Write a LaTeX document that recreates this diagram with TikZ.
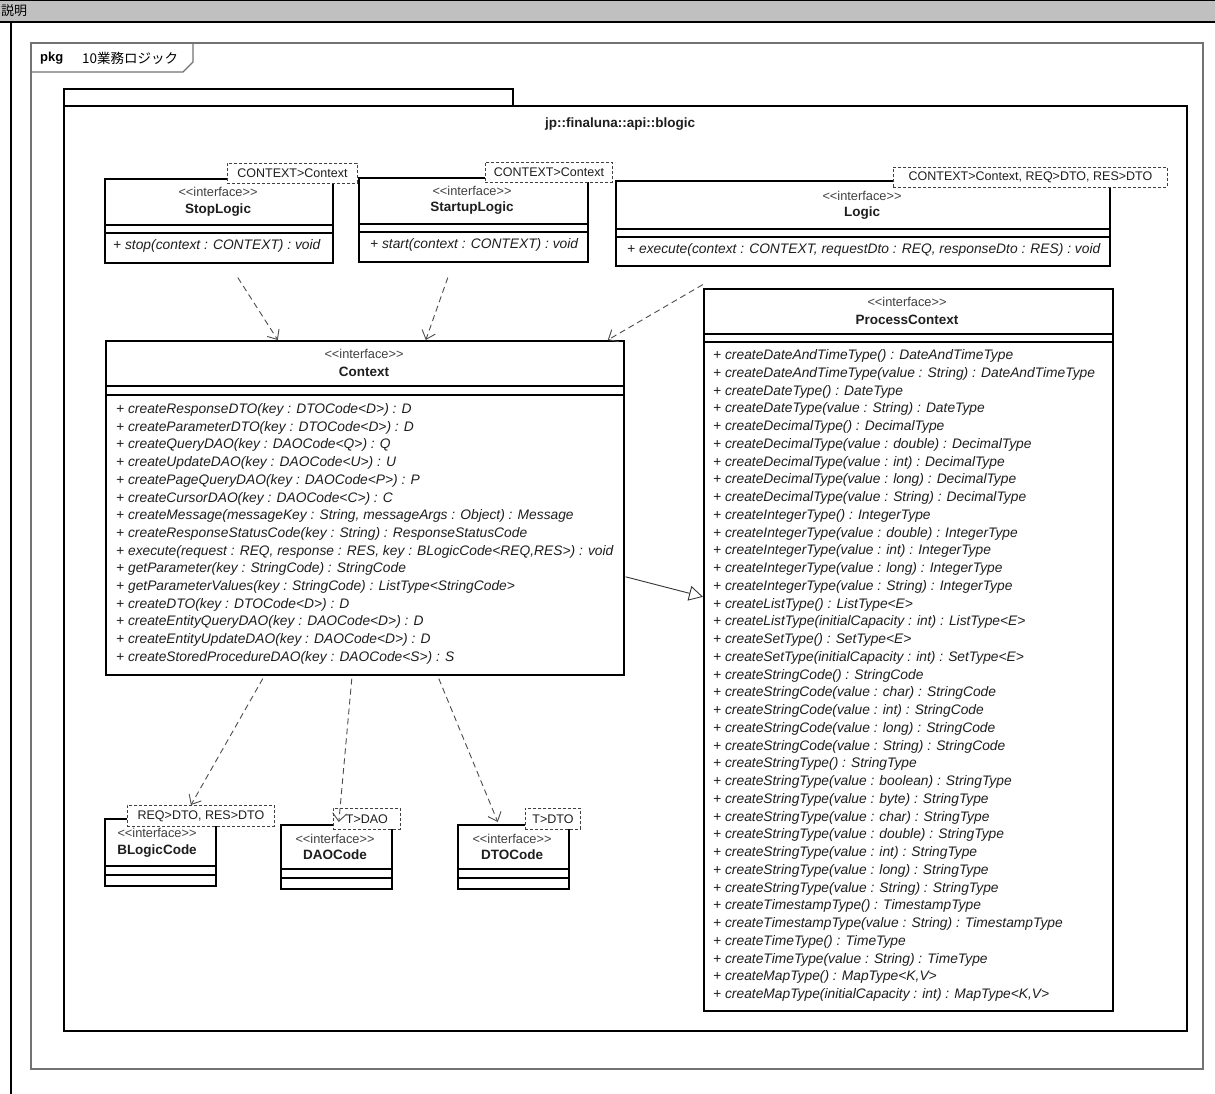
\documentclass[tikz,border=0pt]{standalone}
\usepackage{fontspec}
\setmainfont{Liberation Sans}[Ligatures=TeXOff]
\newfontfamily\jpfont{Noto Sans CJK JP}
\usetikzlibrary{arrows.meta,calc}
\definecolor{hdrgray}{RGB}{192,192,192}
\definecolor{txt}{RGB}{30,30,30}
\begin{document}
\begin{tikzpicture}[x=1pt,y=-1pt,
  cbox/.style={draw=black, line width=1.6pt, fill=white, anchor=north west, inner sep=0pt},
  sepline/.style={draw=black, line width=1.2pt},
  stereo/.style={font=\fontsize{12.8}{14}\selectfont, text=black!75, inner sep=0pt},
  cname/.style={font=\fontsize{13.5}{16}\selectfont\bfseries, text=txt, inner sep=0pt},
  opline/.style={font=\fontsize{13.8}{16}\selectfont\itshape, text=txt, anchor=west, inner sep=0pt, text height=10pt, text depth=3pt},
  tmpl/.style={draw=black!75, dash pattern=on 3pt off 2pt, line width=0.9pt, fill=white, font=\fontsize{12.5}{15}\selectfont, text=txt, inner sep=0pt, anchor=north west},
  dep/.style={draw=black!70, line width=0.9pt, dash pattern=on 6pt off 4pt, -{Straight Barb[length=8pt,width=14pt,line width=0.9pt]}},
  gen/.style={draw=black!80, line width=0.9pt, -{Triangle[open,length=14pt,width=15pt,fill=white,line width=0.9pt]}}
]
\useasboundingbox (0,0) rectangle (1215,1094);
\fill[white] (0,0) rectangle (1215,1094);
% header
\fill[hdrgray] (0,0) rectangle (1215,22);
\draw[line width=1.5pt] (0,0.75) -- (1215,0.75);
\draw[line width=2.5pt] (0,22) -- (1215,22);
\draw[line width=2pt] (11,22) -- (11,1094);
\node[anchor=west, inner sep=0pt, font=\jpfont\fontsize{13}{14}\selectfont] (hdr) at (1,11) {説明};
% pkg frame
\draw[draw=black!55, line width=1.2pt] (31,43) rectangle (1203,1069);
\draw[draw=black!55, line width=1.2pt] (31,72) -- (183,72) -- (193,62) -- (193,43);
\node[anchor=west, inner sep=0pt, font=\fontsize{13}{14}\selectfont\bfseries] (pkgkw) at (40,58) {pkg};
\node[anchor=west, inner sep=0pt, font=\jpfont\fontsize{13.5}{14}\selectfont] (pkgname) at (82,58) {10業務ロジック};
% package
\draw[line width=2pt] (64,89) rectangle (513,106);
\draw[line width=2pt] (64,106) rectangle (1187,1031);
\node[inner sep=0pt, font=\fontsize{13.5}{16}\selectfont\bfseries, text=txt] (pkglbl) at (620,124) {jp::finaluna::api::blogic};

% ---------- StopLogic
\node[cbox, minimum width=228pt, minimum height=84pt] (stop) at (104,178) {};
\node[stereo] (stopS) at (218,192) {<<interface>>};
\node[cname] (stopN) at (218,210) {StopLogic};
\draw[sepline] (stop.west |- 0,225) -- (stop.east |- 0,225);
\draw[sepline] (stop.west |- 0,233) -- (stop.east |- 0,233);
\node[opline] (stopO) at (113,246) {+ stop(context : CONTEXT) : void};
\node[tmpl, minimum width=130pt, minimum height=20pt] (stopT) at (227,163) {CONTEXT>Context};

% ---------- StartupLogic
\node[cbox, minimum width=229pt, minimum height=84pt] (start) at (358,177) {};
\node[stereo] (startS) at (472,191) {<<interface>>};
\node[cname] (startN) at (472,208) {StartupLogic};
\draw[sepline] (start.west |- 0,224) -- (start.east |- 0,224);
\draw[sepline] (start.west |- 0,232) -- (start.east |- 0,232);
\node[opline] (startO) at (370,245) {+ start(context : CONTEXT) : void};
\node[tmpl, minimum width=127pt, minimum height=20pt] (startT) at (485,162) {CONTEXT>Context};

% ---------- Logic
\node[cbox, minimum width=494pt, minimum height=85pt] (logic) at (615,180) {};
\node[stereo] (logicS) at (862,196) {<<interface>>};
\node[cname] (logicN) at (862,213) {Logic};
\draw[sepline] (logic.west |- 0,229) -- (logic.east |- 0,229);
\draw[sepline] (logic.west |- 0,237) -- (logic.east |- 0,237);
\node[opline] (logicO) at (627,250) {+ execute(context : CONTEXT, requestDto : REQ, responseDto : RES) : void};
\node[tmpl, minimum width=274pt, minimum height=20pt] (logicT) at (893,167) {CONTEXT>Context, REQ>DTO, RES>DTO};

% ---------- Context
\node[cbox, minimum width=518pt, minimum height=334pt] (ctx) at (105,340) {};
\node[stereo] (ctxS) at (364,354) {<<interface>>};
\node[cname] (ctxN) at (364,372) {Context};
\draw[sepline] (ctx.west |- 0,386) -- (ctx.east |- 0,386);
\draw[sepline] (ctx.west |- 0,395) -- (ctx.east |- 0,395);
\foreach \t [count=\i] in {
  {+ createResponseDTO(key : DTOCode<D>) : D},
  {+ createParameterDTO(key : DTOCode<D>) : D},
  {+ createQueryDAO(key : DAOCode<Q>) : Q},
  {+ createUpdateDAO(key : DAOCode<U>) : U},
  {+ createPageQueryDAO(key : DAOCode<P>) : P},
  {+ createCursorDAO(key : DAOCode<C>) : C},
  {+ createMessage(messageKey : String, messageArgs : Object) : Message},
  {+ createResponseStatusCode(key : String) : ResponseStatusCode},
  {+ execute(request : REQ, response : RES, key : BLogicCode<REQ,RES>) : void},
  {+ getParameter(key : StringCode) : StringCode},
  {+ getParameterValues(key : StringCode) : ListType<StringCode>},
  {+ createDTO(key : DTOCode<D>) : D},
  {+ createEntityQueryDAO(key : DAOCode<D>) : D},
  {+ createEntityUpdateDAO(key : DAOCode<D>) : D},
  {+ createStoredProcedureDAO(key : DAOCode<S>) : S}}
  \node[opline] (ctxop\i) at (116,{410+17.7*(\i-1)}) {\t};

% ---------- ProcessContext
\node[cbox, minimum width=409pt, minimum height=722pt] (pc) at (703,288) {};
\node[stereo] (pcS) at (907,302) {<<interface>>};
\node[cname] (pcN) at (907,320) {ProcessContext};
\draw[sepline] (pc.west |- 0,334) -- (pc.east |- 0,334);
\draw[sepline] (pc.west |- 0,342) -- (pc.east |- 0,342);
\foreach \t [count=\i] in {
  {+ createDateAndTimeType() : DateAndTimeType},
  {+ createDateAndTimeType(value : String) : DateAndTimeType},
  {+ createDateType() : DateType},
  {+ createDateType(value : String) : DateType},
  {+ createDecimalType() : DecimalType},
  {+ createDecimalType(value : double) : DecimalType},
  {+ createDecimalType(value : int) : DecimalType},
  {+ createDecimalType(value : long) : DecimalType},
  {+ createDecimalType(value : String) : DecimalType},
  {+ createIntegerType() : IntegerType},
  {+ createIntegerType(value : double) : IntegerType},
  {+ createIntegerType(value : int) : IntegerType},
  {+ createIntegerType(value : long) : IntegerType},
  {+ createIntegerType(value : String) : IntegerType},
  {+ createListType() : ListType<E>},
  {+ createListType(initialCapacity : int) : ListType<E>},
  {+ createSetType() : SetType<E>},
  {+ createSetType(initialCapacity : int) : SetType<E>},
  {+ createStringCode() : StringCode},
  {+ createStringCode(value : char) : StringCode},
  {+ createStringCode(value : int) : StringCode},
  {+ createStringCode(value : long) : StringCode},
  {+ createStringCode(value : String) : StringCode},
  {+ createStringType() : StringType},
  {+ createStringType(value : boolean) : StringType},
  {+ createStringType(value : byte) : StringType},
  {+ createStringType(value : char) : StringType},
  {+ createStringType(value : double) : StringType},
  {+ createStringType(value : int) : StringType},
  {+ createStringType(value : long) : StringType},
  {+ createStringType(value : String) : StringType},
  {+ createTimestampType() : TimestampType},
  {+ createTimestampType(value : String) : TimestampType},
  {+ createTimeType() : TimeType},
  {+ createTimeType(value : String) : TimeType},
  {+ createMapType() : MapType<K,V>},
  {+ createMapType(initialCapacity : int) : MapType<K,V>}}
  \node[opline] (pcop\i) at (713,{356+17.75*(\i-1)}) {\t};

% ---------- BLogicCode
\node[cbox, minimum width=111pt, minimum height=67pt] (bl) at (104,818) {};
\node[stereo] (blS) at (157,833) {<<interface>>};
\node[cname] (blN) at (157,851) {BLogicCode};
\draw[sepline] (bl.west |- 0,866) -- (bl.east |- 0,866);
\draw[sepline] (bl.west |- 0,875) -- (bl.east |- 0,875);
\node[tmpl, minimum width=147pt, minimum height=21pt] (blT) at (127,805) {REQ>DTO, RES>DTO};

% ---------- DAOCode
\node[cbox, minimum width=111pt, minimum height=64pt] (dao) at (280,824) {};
\node[stereo] (daoS) at (335,839) {<<interface>>};
\node[cname] (daoN) at (335,855) {DAOCode};
\draw[sepline] (dao.west |- 0,869) -- (dao.east |- 0,869);
\draw[sepline] (dao.west |- 0,878) -- (dao.east |- 0,878);
\node[tmpl, minimum width=67pt, minimum height=21pt] (daoT) at (333,808) {T>DAO};

% ---------- DTOCode
\node[cbox, minimum width=111pt, minimum height=64pt] (dto) at (457,824) {};
\node[stereo] (dtoS) at (512,839) {<<interface>>};
\node[cname] (dtoN) at (512,855) {DTOCode};
\draw[sepline] (dto.west |- 0,869) -- (dto.east |- 0,869);
\draw[sepline] (dto.west |- 0,878) -- (dto.east |- 0,878);
\node[tmpl, minimum width=55pt, minimum height=21pt] (dtoT) at (525,808) {T>DTO};

% ---------- connectors
\draw[dep] ($(stop.south)+(19,14)$) -- ($(ctx.north)+(-87,0)$);
\draw[dep] ($(start.south)+(-25.5,15)$) -- ($(ctx.north)+(61,0)$);
\draw[dep] ($(logic.south)+(-160,18)$) -- ($(ctx.north)+(243,0)$);
\draw[dep] ($(ctx.south)+(-102,3)$) -- ($(blT.north)+(-10,0)$);
\draw[dep] ($(ctx.south)+(-13,3)$) -- ($(dao.north)+(2.5,-2)$);
\draw[dep] ($(ctx.south)+(74,3)$) -- ($(dto.north)+(-15.5,-2)$);
\draw[gen] ($(ctx.east)+(1,69)$) -- ($(pc.west)+(0,-53)$);
\end{tikzpicture}
\end{document}
